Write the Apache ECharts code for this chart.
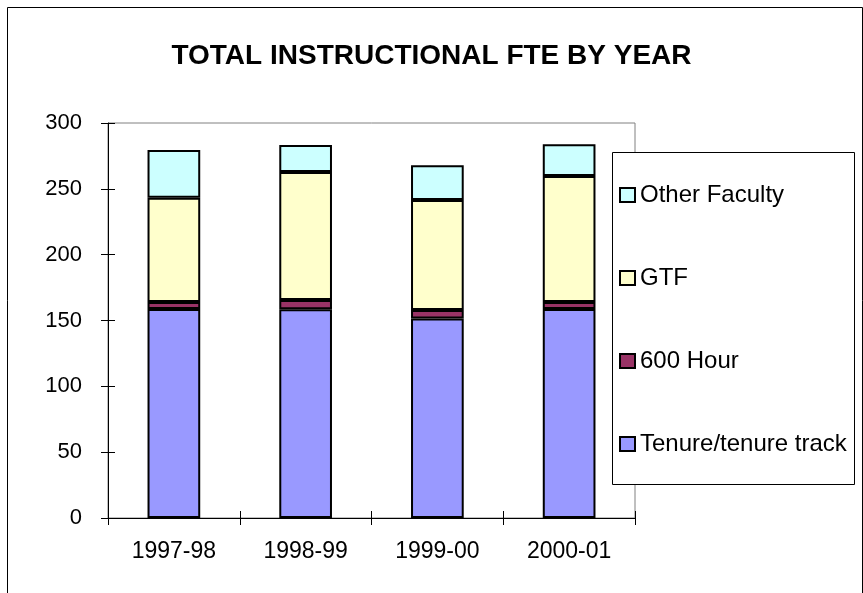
<!DOCTYPE html>
<html>
<head>
<meta charset="utf-8">
<script src="https://cdn.jsdelivr.net/npm/echarts@6/dist/echarts.min.js"></script>
<style>
  html, body { margin: 0; padding: 0; background: #fff; }
  #chart { width: 863px; height: 593px; }
</style>
</head>
<body>
<div id="chart"></div>
<script>
const years = ['1997-98', '1998-99', '1999-00', '2000-01']
const tenure = [158.7, 158.5, 151.6, 158.7]
const sixHundred = [5.3, 7.0, 6.3, 5.3]
const gtf = [79.2, 97.2, 83.6, 95.7]
const otherFaculty = [36.2, 20.5, 26.5, 24.1]
const legendOrder = ['Other Faculty', 'GTF', '600 Hour', 'Tenure/tenure track']

const font = 'Arial, "Liberation Sans", sans-serif'
const chart = echarts.init(document.getElementById('chart'))

const barSeries = (name, data, color) => ({
  name,
  type: 'bar',
  stack: 'fte',
  data,
  barWidth: '40%',
  itemStyle: { color, borderColor: '#000', borderWidth: 2 }
})

const option = {
  backgroundColor: '#fff',
  animation: false,
  textStyle: { fontFamily: font },
  title: {
    text: 'TOTAL INSTRUCTIONAL FTE BY YEAR',
    left: 'center',
    top: 37,
    textStyle: { fontFamily: font, fontSize: 28, fontWeight: 'bold', color: '#000' }
  },
  graphic: [
    {
      type: 'rect',
      shape: { x: 7.5, y: 7.5, width: 855, height: 600 },
      style: { fill: 'none', stroke: '#000', lineWidth: 1 },
      silent: true
    },
    {
      type: 'rect',
      shape: { x: 612.5, y: 152.5, width: 242, height: 332 },
      style: { fill: '#fff', stroke: '#000', lineWidth: 1 },
      z: 10,
      silent: true
    }
  ],
  legend: {
    orient: 'vertical',
    left: 614,
    top: 177,
    data: legendOrder,
    itemWidth: 15,
    itemHeight: 14,
    itemGap: 57,
    icon: 'rect',
    z: 20,
    itemStyle: { borderColor: '#000', borderWidth: 2 },
    textStyle: { fontFamily: font, fontSize: 24, color: '#000', lineHeight: 26 }
  },
  grid: {
    left: 108,
    right: 228,
    top: 123,
    bottom: 75,
    show: true,
    borderColor: '#808080',
    borderWidth: 1
  },
  xAxis: [
    {
      type: 'category',
      data: years,
      axisLine: { lineStyle: { color: '#000', width: 1 } },
      axisTick: { show: true, length: 7, lineStyle: { color: '#000' } },
      axisLabel: { color: '#000', fontSize: 23, fontFamily: font, margin: 22 }
    },
    {
      type: 'category',
      data: years,
      position: 'bottom',
      axisLine: { show: false },
      axisTick: { show: true, inside: true, length: 7, lineStyle: { color: '#000' } },
      axisLabel: { show: false }
    }
  ],
  yAxis: [
    {
      type: 'value',
      min: 0,
      max: 300,
      interval: 50,
      axisLine: { show: true, lineStyle: { color: '#000', width: 1 } },
      axisTick: { show: true, length: 7, lineStyle: { color: '#000' } },
      axisLabel: { color: '#000', fontSize: 22, fontFamily: font, margin: 26 },
      splitLine: { show: false }
    },
    {
      type: 'value',
      min: 0,
      max: 300,
      interval: 50,
      position: 'left',
      axisLine: { show: false },
      axisTick: { show: true, inside: true, length: 7, lineStyle: { color: '#000' } },
      axisLabel: { show: false },
      splitLine: { show: false }
    }
  ],
  series: [
    barSeries('Tenure/tenure track', tenure, '#9999FF'),
    barSeries('600 Hour', sixHundred, '#993366'),
    barSeries('GTF', gtf, '#FFFFCC'),
    barSeries('Other Faculty', otherFaculty, '#CCFFFF')
  ]
}

chart.setOption(option)
</script>
</body>
</html>
